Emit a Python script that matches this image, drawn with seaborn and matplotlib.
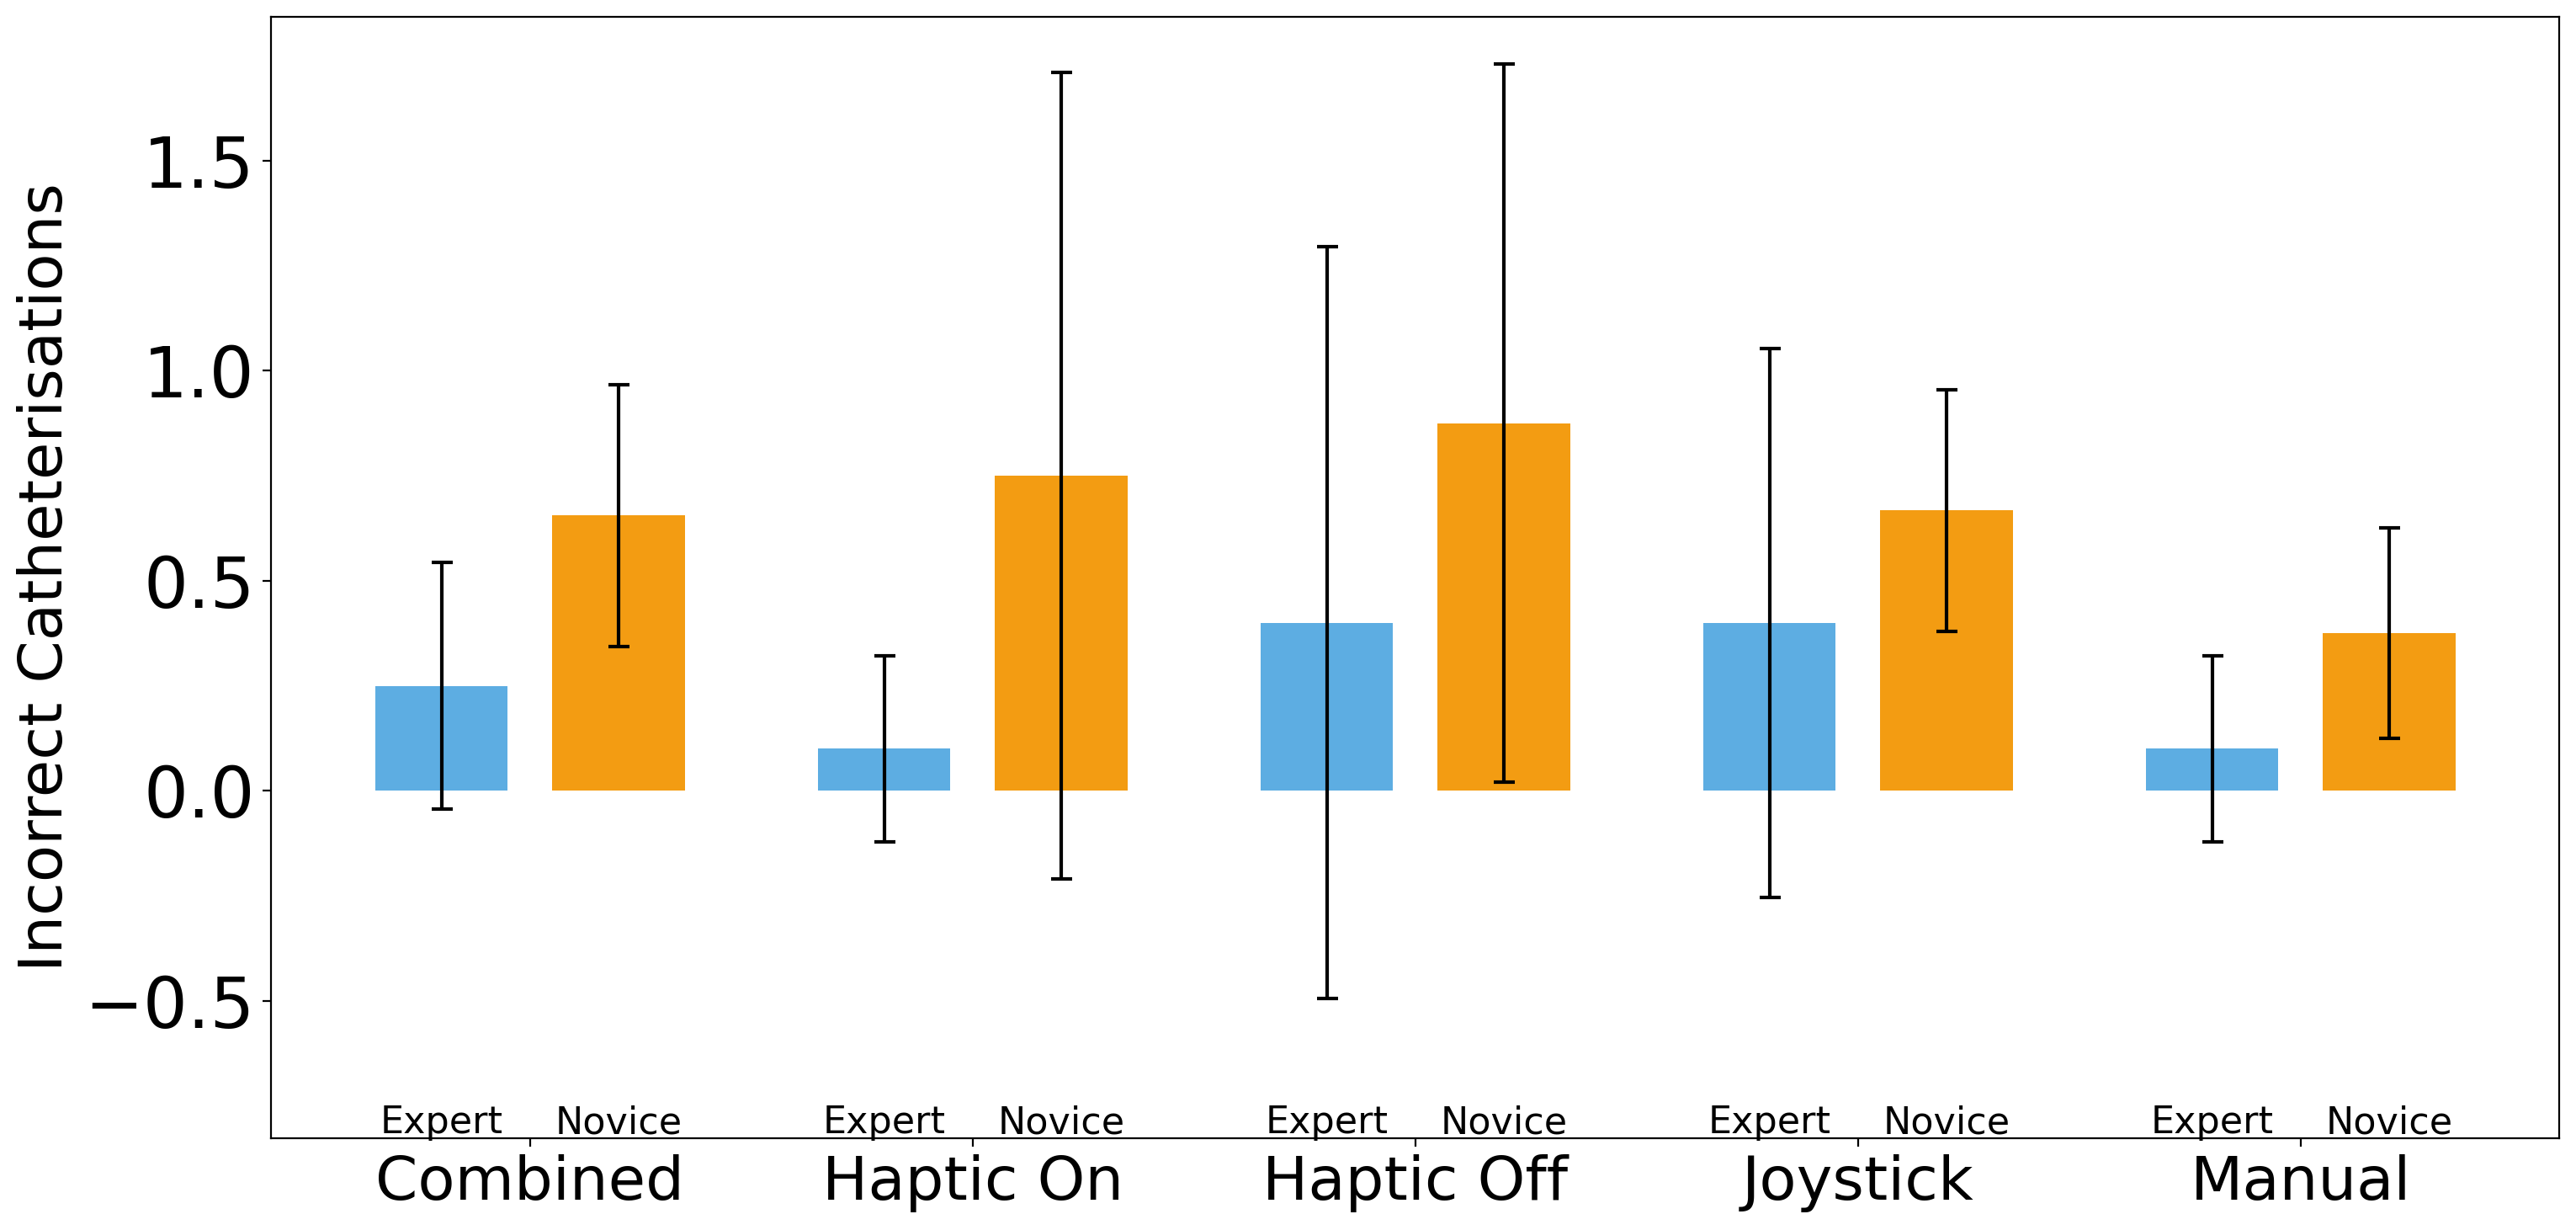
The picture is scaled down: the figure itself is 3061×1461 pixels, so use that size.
import matplotlib
matplotlib.use('Agg')
import matplotlib.pyplot as plt
import matplotlib.transforms as mtransforms
import seaborn as sns
import pandas as pd

# Values
categories = ['Combined', 'Haptic On', 'Haptic Off', 'Joystick', 'Manual']
groups = ['Expert', 'Novice']
expert_mean = [0.25, 0.10, 0.40, 0.40, 0.10]
expert_err = [0.294, 0.222, 0.895, 0.653, 0.222]
novice_mean = [0.655, 0.75, 0.875, 0.667, 0.375]
novice_err = [0.311, 0.96, 0.855, 0.288, 0.25]
colors = ['#5DADE2', '#F39C12']

df = pd.DataFrame({
    'Condition': categories * 2,
    'Group': ['Expert'] * len(categories) + ['Novice'] * len(categories),
    'Mean': expert_mean + novice_mean,
    'Err': expert_err + novice_err,
})

fig = plt.figure(figsize=(15.305, 7.305), dpi=200)
ax = fig.add_axes([0.1052, 0.0749, 0.8884, 0.9117])

sns.barplot(data=df, x='Condition', y='Mean', hue='Group', order=categories,
            hue_order=groups, palette=colors, gap=0.25, saturation=1,
            errorbar=None, legend=False, ax=ax)

# error bars and the small group labels, placed at each bar's centre
trans = mtransforms.blended_transform_factory(ax.transData, ax.transAxes)
bars = [p for p in ax.patches]
for k, patch in enumerate(bars):
    g = k // len(categories)
    i = k % len(categories)
    sub = df[(df['Group'] == groups[g]) & (df['Condition'] == categories[i])].iloc[0]
    xc = patch.get_x() + patch.get_width() / 2
    ax.errorbar(xc, sub['Mean'], yerr=sub['Err'], fmt='none', ecolor='black',
                elinewidth=1.5, capsize=4.5, capthick=1.5)
    ax.text(xc, 0.004, groups[g], transform=trans, ha='center', va='baseline',
            fontsize=16)

ax.set_ylim(-0.826, 1.843)
ax.set_xlabel('')
ax.set_ylabel('Incorrect Catheterisations', fontsize=26)
ax.tick_params(axis='y', labelsize=30)
ax.tick_params(axis='x', labelsize=26)

plt.savefig('out.png', dpi=200)
